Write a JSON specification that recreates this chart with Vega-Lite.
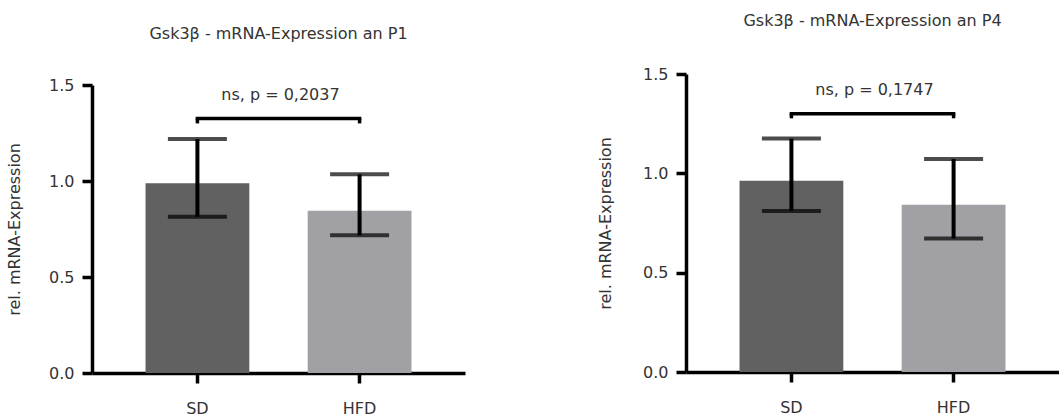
{
  "$schema": "https://vega.github.io/schema/vega-lite/v6.json",
  "background": "white",
  "padding": {"left": 6, "top": 13, "right": 0, "bottom": 0},
  "spacing": 132,
  "config": {
    "view": {"stroke": null},
    "font": "DejaVu Sans",
    "axis": {
      "domainColor": "black", "domainWidth": 3.5,
      "tickColor": "black", "tickWidth": 3.5, "tickSize": 10,
      "labelFont": "DejaVu Sans", "labelFontSize": 16, "labelColor": "#333",
      "titleFont": "DejaVu Sans", "titleFontSize": 16, "titleFontWeight": "normal", "titleColor": "#333",
      "grid": false
    },
    "title": {"font": "DejaVu Sans", "fontSize": 16, "fontWeight": "normal", "color": "#333", "anchor": "middle"}
  },
  "hconcat": [
    {
      "width": 373, "height": 299,
      "title": {"text": "Gsk3β - mRNA-Expression an P1", "offset": 32},
      "data": {"values": [
        {"group": "SD", "mean": 0.988, "lo": 0.814, "hi": 1.219, "bracket": 1.325, "bracketEnd": 1.30},
        {"group": "HFD", "mean": 0.845, "lo": 0.717, "hi": 1.035, "bracket": 1.325, "bracketEnd": 1.30}
      ]},
      "encoding": {
        "x": {"field": "group", "type": "nominal", "sort": ["SD", "HFD"],
              "scale": {"paddingInner": 0.36, "paddingOuter": 0.33},
              "axis": {"title": null, "labelAngle": 0, "labelPadding": 17}}
      },
      "layer": [
        {"mark": {"type": "bar"},
         "encoding": {
           "y": {"field": "mean", "type": "quantitative", "scale": {"domain": [0, 1.5], "nice": false, "range": [299, 11]},
                 "axis": {"title": "rel. mRNA-Expression", "values": [0, 0.5, 1, 1.5], "format": ".1f", "labelPadding": 8, "titlePadding": 26}},
           "color": {"field": "group", "type": "nominal", "scale": {"domain": ["SD", "HFD"], "range": ["#616161", "#a1a0a4"]}, "legend": null}
         }},
        {"mark": {"type": "rule", "color": "black", "strokeWidth": 4},
         "encoding": {"y": {"field": "lo", "type": "quantitative"}, "y2": {"field": "hi"}}},
        {"mark": {"type": "tick", "color": "black", "size": 59, "thickness": 4},
         "encoding": {"y": {"field": "lo", "type": "quantitative"}}},
        {"mark": {"type": "tick", "color": "black", "size": 59, "thickness": 4},
         "encoding": {"y": {"field": "hi", "type": "quantitative"}}},
        {"mark": {"type": "line", "color": "black", "strokeWidth": 3.5, "strokeCap": "square"},
         "encoding": {"y": {"field": "bracket", "type": "quantitative"}}},
        {"mark": {"type": "rule", "color": "black", "strokeWidth": 3.5},
         "encoding": {"y": {"field": "bracket", "type": "quantitative"}, "y2": {"field": "bracketEnd"}}},
        {"data": {"values": [{"group": "SD", "label": "ns, p = 0,2037", "ypos": 1.448}]},
         "mark": {"type": "text", "fontSize": 16, "color": "#333", "baseline": "middle", "align": "center"},
         "encoding": {
           "x": {"field": "group", "type": "nominal", "bandPosition": 1.3},
           "y": {"field": "ypos", "type": "quantitative"},
           "text": {"field": "label"}
         }}
      ]
    },
    {
      "width": 373, "height": 298,
      "title": {"text": "Gsk3β - mRNA-Expression an P4", "offset": 37},
      "data": {"values": [
        {"group": "SD", "mean": 0.963, "lo": 0.811, "hi": 1.175, "bracket": 1.30, "bracketEnd": 1.277},
        {"group": "HFD", "mean": 0.842, "lo": 0.672, "hi": 1.072, "bracket": 1.30, "bracketEnd": 1.277}
      ]},
      "encoding": {
        "x": {"field": "group", "type": "nominal", "sort": ["SD", "HFD"],
              "scale": {"paddingInner": 0.36, "paddingOuter": 0.33},
              "axis": {"title": null, "labelAngle": 0, "labelPadding": 17}}
      },
      "layer": [
        {"mark": {"type": "bar"},
         "encoding": {
           "y": {"field": "mean", "type": "quantitative", "scale": {"domain": [0, 1.5], "nice": false},
                 "axis": {"title": "rel. mRNA-Expression", "values": [0, 0.5, 1, 1.5], "format": ".1f", "labelPadding": 8, "titlePadding": 29}},
           "color": {"field": "group", "type": "nominal", "scale": {"domain": ["SD", "HFD"], "range": ["#616161", "#a1a0a4"]}, "legend": null}
         }},
        {"mark": {"type": "rule", "color": "black", "strokeWidth": 4},
         "encoding": {"y": {"field": "lo", "type": "quantitative"}, "y2": {"field": "hi"}}},
        {"mark": {"type": "tick", "color": "black", "size": 59, "thickness": 4},
         "encoding": {"y": {"field": "lo", "type": "quantitative"}}},
        {"mark": {"type": "tick", "color": "black", "size": 59, "thickness": 4},
         "encoding": {"y": {"field": "hi", "type": "quantitative"}}},
        {"mark": {"type": "line", "color": "black", "strokeWidth": 3.5, "strokeCap": "square"},
         "encoding": {"y": {"field": "bracket", "type": "quantitative"}}},
        {"mark": {"type": "rule", "color": "black", "strokeWidth": 3.5},
         "encoding": {"y": {"field": "bracket", "type": "quantitative"}, "y2": {"field": "bracketEnd"}}},
        {"data": {"values": [{"group": "SD", "label": "ns, p = 0,1747", "ypos": 1.42}]},
         "mark": {"type": "text", "fontSize": 16, "color": "#333", "baseline": "middle", "align": "center"},
         "encoding": {
           "x": {"field": "group", "type": "nominal", "bandPosition": 1.3},
           "y": {"field": "ypos", "type": "quantitative"},
           "text": {"field": "label"}
         }}
      ]
    }
  ]
}
